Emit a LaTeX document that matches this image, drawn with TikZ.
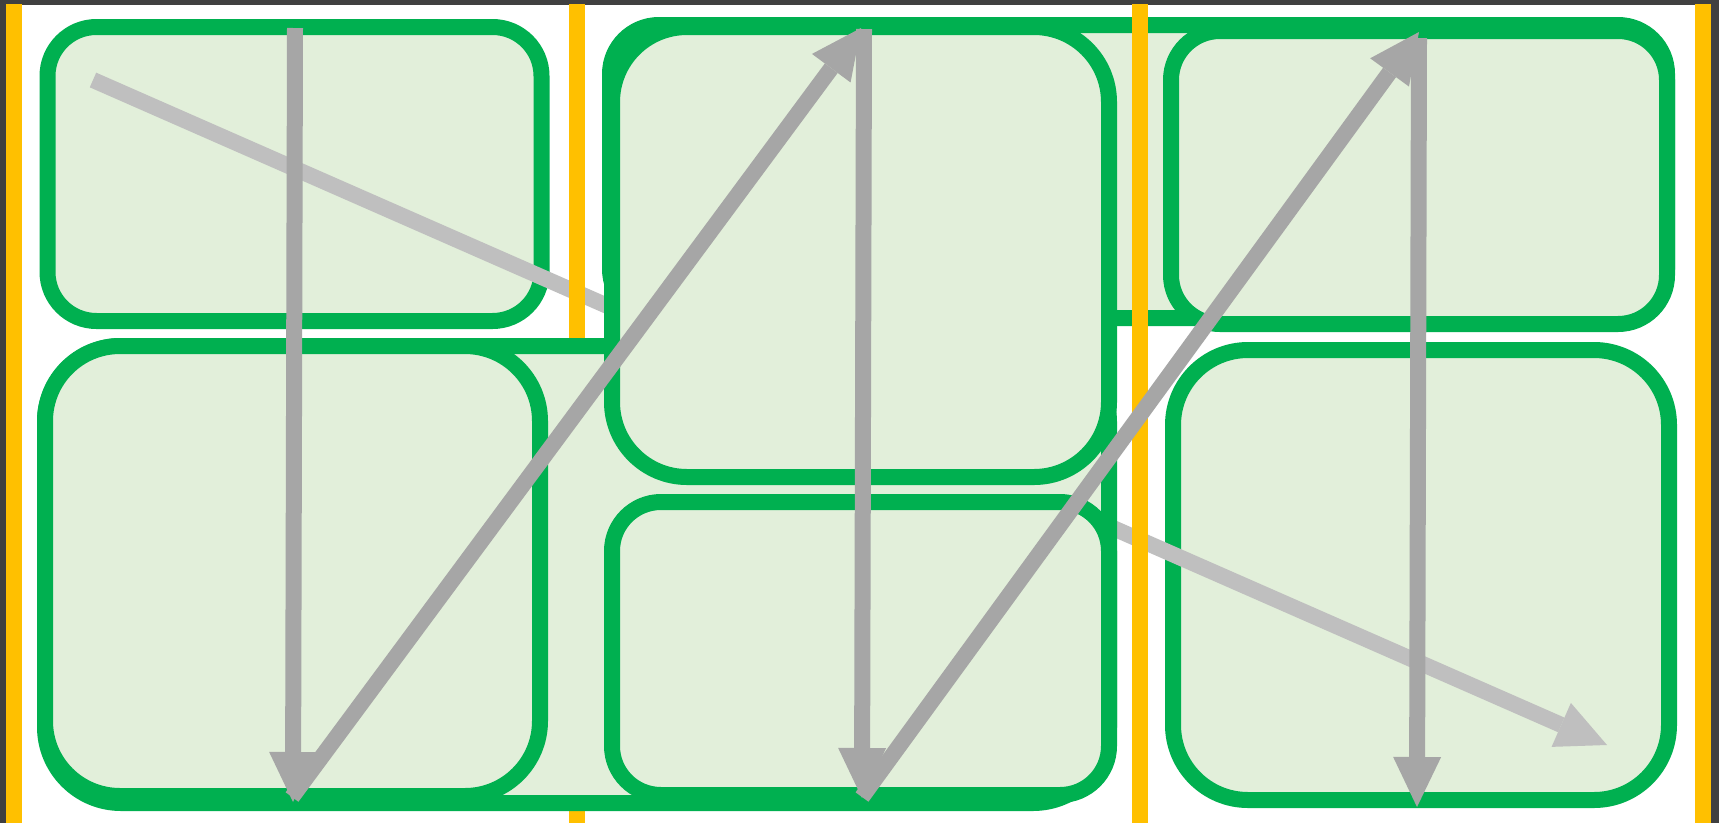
\documentclass[tikz,border=0pt]{standalone}
\usetikzlibrary{arrows.meta}
\definecolor{gborder}{HTML}{00B050}
\definecolor{gfill}{HTML}{E2EFDA}
\definecolor{ylw}{HTML}{FFC000}
\definecolor{dgray}{HTML}{A6A6A6}
\definecolor{lgray}{HTML}{BFBFBF}
\definecolor{framecol}{HTML}{404040}
\begin{document}
\begin{tikzpicture}[x=1pt,y=-1pt,
  panel/.style={rectangle, draw=gborder, fill=gfill, line width=16pt, inner sep=0pt, outer sep=0pt},
  smallr/.style={rounded corners=49pt},
  larger/.style={rounded corners=75pt},
  guide/.style={draw=ylw, line width=16pt},
  bigtip/.style={-{Triangle[length=50pt 0 0,width=48pt 0 0,line width=0pt]}},
  darrow/.style={draw=dgray, line width=16pt, bigtip},
  larrow/.style={draw=lgray, line width=16pt, bigtip}]
\useasboundingbox (0,0) rectangle (1719,823);
\fill[white] (0,0) rectangle (1719,823);
% frame
\fill[framecol] (0,0) rectangle (1719,4.5);
\fill[framecol] (0,0) rectangle (6,823);
\fill[framecol] (1711,0) rectangle (1719,823);
% top container
\node[panel, smallr, minimum width=1057pt, minimum height=293pt] (sone) at (1138.5,171.5) {};
% boxes under the row arrow
\node[panel, smallr, minimum width=494pt, minimum height=294pt] (tl) at (294.5,174) {};
\node[panel, smallr, minimum width=496pt, minimum height=293pt] (tr) at (1419,177.5) {};
\node[panel, larger, minimum width=496pt, minimum height=450pt] (br) at (1421,575) {};
% row-order arrow
\coordinate (rs) at (93,80);
\coordinate (re) at (1607,745);
\draw[larrow] (rs) -- (re);
% column guides
\draw[guide] (14,4) -- (14,823);
\draw[guide] (577,4) -- (577,823);
\draw[guide] (1140,4) -- (1140,823);
\draw[guide] (1703,4) -- (1703,823);
% bottom-left container
\node[panel, rounded corners=76pt, minimum width=1064pt, minimum height=457pt] (bigl) at (577,574.5) {};
\node[panel, larger, minimum width=495pt, minimum height=450pt] (bl) at (292.5,571) {};
\node[panel, larger, minimum width=497pt, minimum height=450pt] (mid) at (860.5,252) {};
\node[panel, smallr, minimum width=497pt, minimum height=293pt] (midb) at (860.5,648.5) {};
% column-order arrows
\coordinate (c1s) at (295,28);
\coordinate (c1e) at (293,802);
\coordinate (d1s) at (292,797);
\coordinate (d1e) at (861,28);
\coordinate (c2s) at (864,29);
\coordinate (c2e) at (862,798);
\coordinate (d2s) at (862,797);
\coordinate (d2e) at (1419,32);
\coordinate (c3s) at (1419,38);
\coordinate (c3e) at (1417,807);
\draw[darrow] (c1s) -- (c1e);
\draw[darrow] (d1s) -- (d1e);
\draw[darrow] (c2s) -- (c2e);
\draw[darrow] (d2s) -- (d2e);
\draw[darrow] (c3s) -- (c3e);
\end{tikzpicture}
\end{document}
